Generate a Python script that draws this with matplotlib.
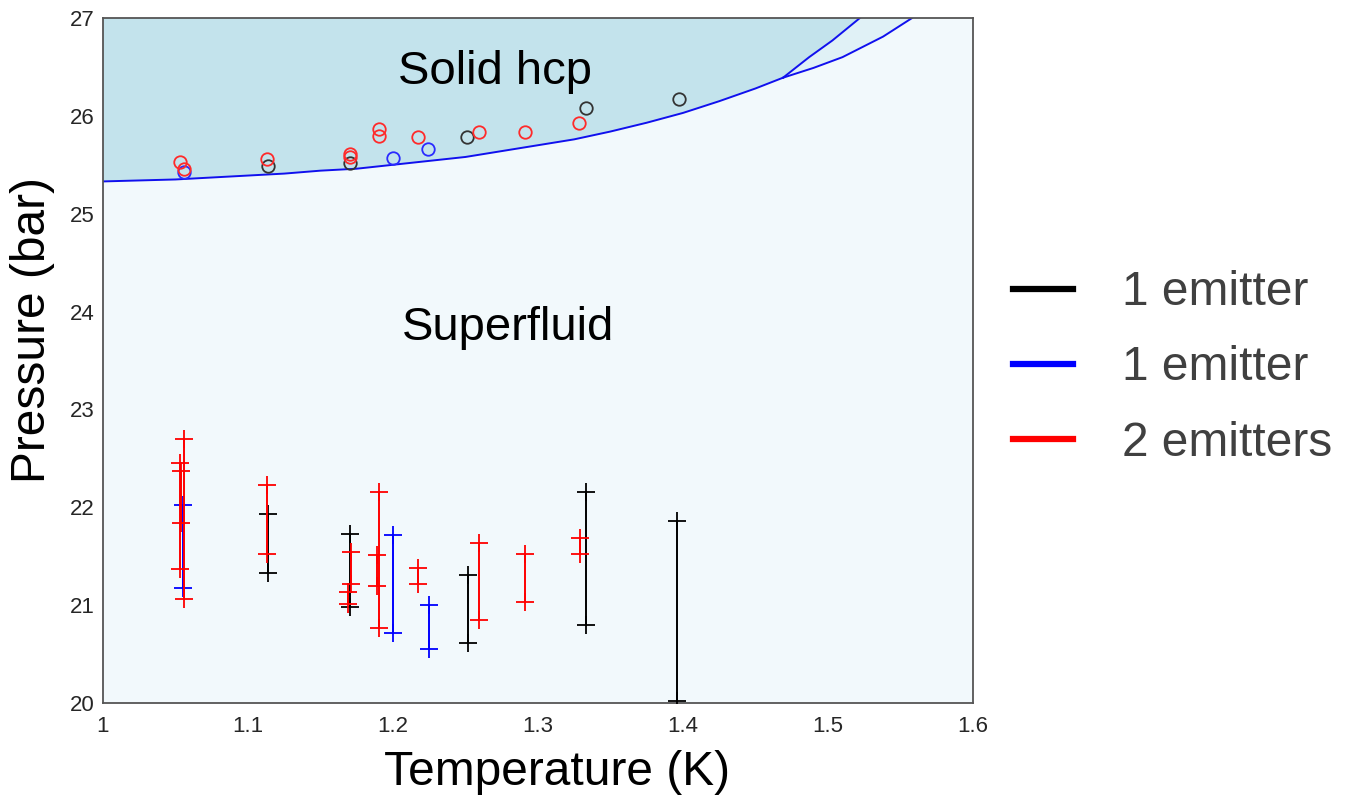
import matplotlib
matplotlib.use("Agg")
import matplotlib.pyplot as plt
from matplotlib.lines import Line2D

plt.rcParams['font.family'] = ['Liberation Sans', 'DejaVu Sans']

# ---- phase boundaries ----
melt_T = [1.000, 1.025, 1.050, 1.075, 1.100, 1.125, 1.150, 1.175, 1.200, 1.225,
          1.250, 1.275, 1.300, 1.325, 1.350, 1.375, 1.400, 1.425, 1.450, 1.469]
melt_P = [25.33, 25.34, 25.35, 25.37, 25.39, 25.41, 25.44, 25.46, 25.50, 25.54,
          25.58, 25.64, 25.70, 25.76, 25.84, 25.93, 26.03, 26.15, 26.28, 26.39]
hcp_bcc_T = [1.469, 1.487, 1.503, 1.522]
hcp_bcc_P = [26.39, 26.60, 26.77, 27.0]
bcc_liq_T = [1.469, 1.490, 1.510, 1.538, 1.558]
bcc_liq_P = [26.39, 26.49, 26.60, 26.81, 27.0]

# ---- circle markers (T, P) ----
black_circ_T = [1.114, 1.170, 1.251, 1.333, 1.397]
black_circ_P = [25.49, 25.52, 25.78, 26.08, 26.17]
blue_circ_T = [1.056, 1.200, 1.224]
blue_circ_P = [25.43, 25.57, 25.66]
red_circ_T = [1.053, 1.056, 1.113, 1.170, 1.170, 1.190, 1.190, 1.217, 1.259, 1.291, 1.328]
red_circ_P = [25.53, 25.46, 25.56, 25.61, 25.58, 25.87, 25.79, 25.78, 25.83, 25.84, 25.93]

# ---- vertical range bars (T, low, high) ----
black_bar_T = [1.114, 1.170, 1.252, 1.333, 1.396]
black_bar_lo = [21.33, 20.98, 20.61, 20.80, 20.02]
black_bar_hi = [21.93, 21.73, 21.31, 22.16, 21.86]
blue_bar_T = [1.055, 1.200, 1.225]
blue_bar_lo = [21.18, 20.72, 20.55]
blue_bar_hi = [22.02, 21.72, 21.00]
red_bar_T = [1.053, 1.056, 1.054, 1.113, 1.171, 1.169, 1.190, 1.189, 1.217, 1.259, 1.291, 1.329]
red_bar_lo = [21.37, 21.06, 21.84, 21.52, 21.22, 21.01, 20.77, 21.20, 21.22, 20.85, 21.03, 21.52]
red_bar_hi = [22.45, 22.70, 22.37, 22.23, 21.54, 21.13, 22.16, 21.51, 21.38, 21.64, 21.52, 21.69]

x_ticks = [1, 1.1, 1.2, 1.3, 1.4, 1.5, 1.6]
x_ticklabels = ['1', '1.1', '1.2', '1.3', '1.4', '1.5', '1.6']
y_ticks = [20, 21, 22, 23, 24, 25, 26, 27]
legend_labels = ['1 emitter', '1 emitter', '2 emitters']
legend_colors = ['black', 'blue', 'red']

fig = plt.figure(figsize=(13.5, 7.97), dpi=100)
ax = fig.add_axes([103/1350, 1-703/797, (973-103)/1350, (703-18)/797])

c_solid = '#c3e3ec'
c_bcc = '#e0f1f6'
c_sf = '#f2f9fc'
ax.set_facecolor(c_sf)

# solid hcp region
poly_x = list(melt_T) + hcp_bcc_T[1:] + [1.0]
poly_y = list(melt_P) + hcp_bcc_P[1:] + [27.0]
ax.fill(poly_x, poly_y, color=c_solid, lw=0, zorder=1)
# bcc region
bx = hcp_bcc_T + bcc_liq_T[::-1]
by = hcp_bcc_P + bcc_liq_P[::-1]
ax.fill(bx, by, color=c_bcc, lw=0, zorder=1)

lc = '#1010ee'
ax.plot(melt_T, melt_P, color=lc, lw=1.4, zorder=2)
ax.plot(hcp_bcc_T, hcp_bcc_P, color=lc, lw=1.4, zorder=2)
ax.plot(bcc_liq_T, bcc_liq_P, color=lc, lw=1.4, zorder=2)

def bars(Ts, lo, hi, col):
    for t, a, b in zip(Ts, lo, hi):
        ax.plot([t, t], [a, b], color=col, lw=1.4, marker='+', ms=12.5, mew=1.3, zorder=3)

bars(black_bar_T, black_bar_lo, black_bar_hi, 'black')
bars(blue_bar_T, blue_bar_lo, blue_bar_hi, 'blue')
bars(red_bar_T, red_bar_lo, red_bar_hi, 'red')

ax.plot(black_circ_T, black_circ_P, ls='none', marker='o', ms=9, mfc='none', mec='#333333', mew=1.3, zorder=4)
ax.plot(blue_circ_T, blue_circ_P, ls='none', marker='o', ms=9, mfc='none', mec='#2a2aff', mew=1.3, zorder=4)
ax.plot(red_circ_T, red_circ_P, ls='none', marker='o', ms=9, mfc='none', mec='#ff2a2a', mew=1.3, zorder=4)

ax.text(1.2705, 26.45, 'Solid hcp', fontsize=34, ha='center', va='center', color='black', zorder=5)
ax.text(1.279, 23.83, 'Superfluid', fontsize=34, ha='center', va='center', color='black', zorder=5)

ax.set_xlim(1, 1.6)
ax.set_ylim(20, 27)
ax.set_xticks(x_ticks)
ax.set_xticklabels(x_ticklabels)
ax.set_yticks(y_ticks)
ax.tick_params(length=0, labelsize=16, colors='#262626')
ax.tick_params(axis='x', pad=9)
ax.tick_params(axis='y', pad=6)
for s in ax.spines.values():
    s.set_color('#555555')
    s.set_linewidth(1.3)

ax.set_xlabel('Temperature (K)', fontsize=34.5, color='black')
ax.set_ylabel('Pressure (bar)', fontsize=34.5, color='black')
ax.xaxis.set_label_coords(0.522, -0.068)
ax.yaxis.set_label_coords(-0.055, 0.545)

handles = [Line2D([], [], color=c, lw=4.5) for c in legend_colors]
leg = fig.legend(handles, legend_labels, loc='center left',
                 bbox_to_anchor=(1013/1350, 1-368/797), frameon=False,
                 fontsize=34.5, handlelength=1.25, handletextpad=1.03,
                 labelspacing=0.63, borderpad=0, borderaxespad=0)
for t in leg.get_texts():
    t.set_color('#404040')

fig.savefig('out.png', dpi=100)
